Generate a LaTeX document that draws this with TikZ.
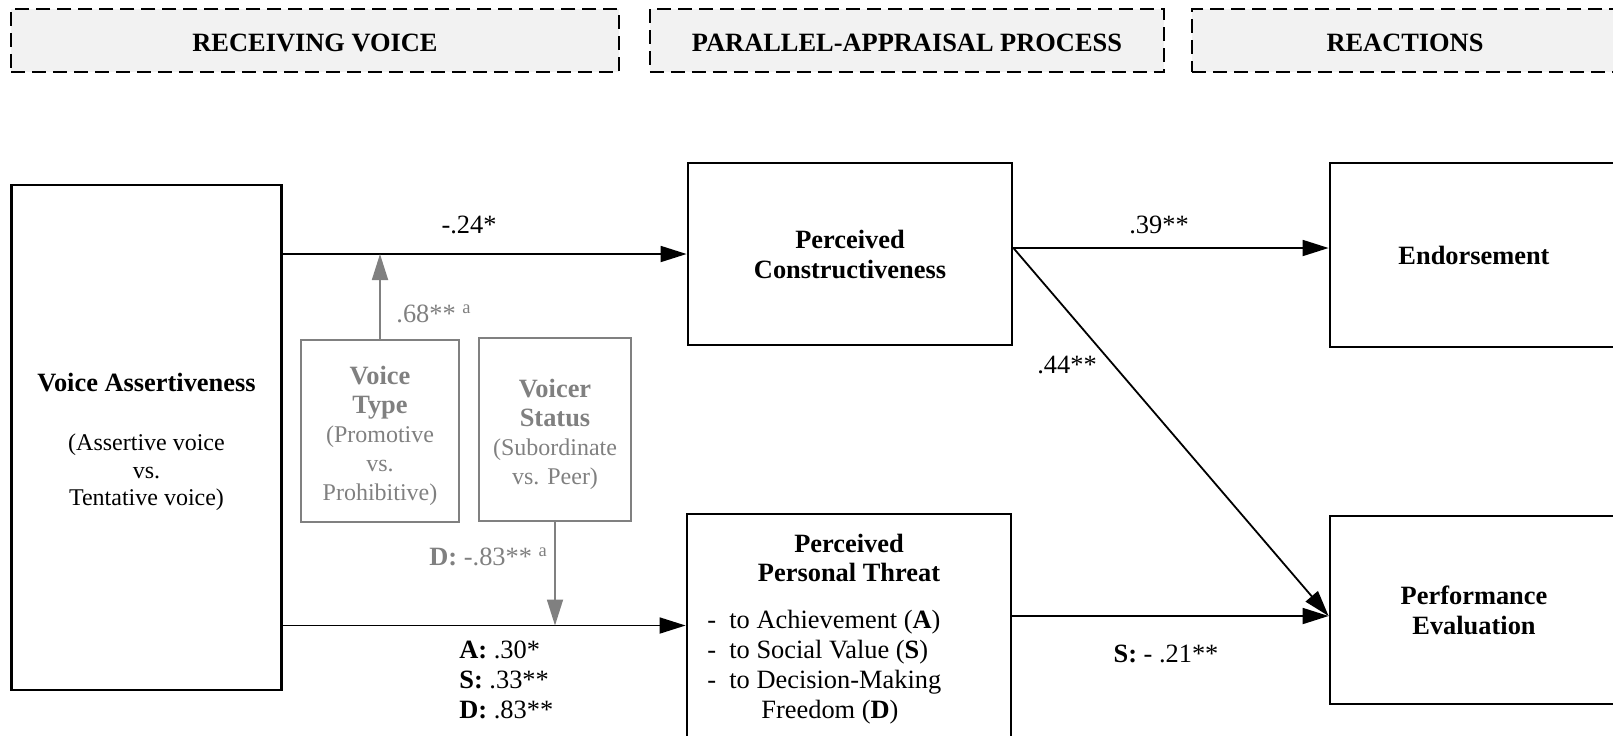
\documentclass[tikz,border=0pt]{standalone}
\usepackage{fontspec}
\setmainfont{Liberation Serif}
\usetikzlibrary{arrows.meta, positioning}

\definecolor{modgray}{RGB}{128,128,128}
\definecolor{hdrfill}{RGB}{242,242,242}
\newcommand{\varname}[1]{{\fontsize{13.2}{15}\selectfont\bfseries #1}}
\newcommand{\topgap}{\rule{0pt}{14pt}}

\begin{document}
\begin{tikzpicture}[x=0.5pt, y=-0.5pt,
    hdrbox/.style={draw, dash pattern=on 7pt off 3.5pt, line width=1pt, fill=hdrfill,
                   minimum height=31.5pt, inner sep=0pt, font=\fontsize{13.2}{15}\selectfont\bfseries},
    varbox/.style={draw, line width=1.4pt, inner sep=0pt, align=center,
                   font=\fontsize{13.2}{15}\selectfont\bfseries},
    modbox/.style={draw=modgray, line width=1.2pt, inner sep=0pt, align=center, text=modgray,
                   minimum height=91pt, font=\fontsize{12}{14.5}\selectfont},
    link/.style={-{Triangle[length=13pt, width=8pt]}, line width=0.9pt},
    modlink/.style={link, draw=modgray},
    coef/.style={inner sep=0pt, font=\fontsize{13.2}{15}\selectfont},
    modcoef/.style={coef, text=modgray}]

    \useasboundingbox (0,0) rectangle (1613,735);

    % Stage headers
    \node[hdrbox, minimum width=303.75pt] (hdrrecv) at (315,40.5) {\rule{0pt}{11pt}RECEIVING VOICE};
    \node[hdrbox, minimum width=257.25pt] (hdrproc) at (907,40.5) {\rule{0pt}{11pt}PARALLEL-APPRAISAL PROCESS};
    \node[hdrbox, minimum width=212.75pt] (hdrreac) at (1405,40.5) {\rule{0pt}{11pt}REACTIONS};

    % Independent variable
    \node[varbox, minimum width=135.25pt, minimum height=252.5pt,
          font=\fontsize{12}{13.75}\selectfont] (assert) at (146.5,437.5)
          {\topgap\varname{Voice Assertiveness}\\[15.75pt](Assertive voice\\vs.\\Tentative voice)};

    % Moderators
    \node[modbox, minimum width=79pt] (vtype) at (380,431)
          {\topgap\varname{Voice}\\\varname{Type}\\(Promotive\\vs.\\Prohibitive)};
    \node[modbox, minimum width=76pt, minimum height=91.5pt] (vstatus) at (555,429.5)
          {\topgap\varname{Voicer}\\\varname{Status}\\(Subordinate\\vs. Peer)};

    % Mediators
    \node[varbox, minimum width=162pt, minimum height=91pt] (constr) at (850,254)
          {Perceived\\Constructiveness};
    \node[varbox, minimum width=162pt, minimum height=111.5pt] (threat) at (849,625.5) {};
    \node[coef, align=center, font=\fontsize{13.2}{14.5}\selectfont\bfseries] (threathead) at (849,557.5)
          {Perceived\\Personal Threat};
    \node[coef, align=left, anchor=north west] (threatlist) at (707,610)
          {-\hspace{6.6pt}to Achievement (\textbf{A})\\
           -\hspace{6.6pt}to Social Value (\textbf{S})\\
           -\hspace{6.6pt}to Decision-Making\\
           \hspace*{27pt}Freedom (\textbf{D})};

    % Outcomes
    \node[varbox, minimum width=144pt, minimum height=92pt] (endorse) at (1474,255) {Endorsement};
    \node[varbox, minimum width=144pt, minimum height=94pt] (perfeval) at (1474,610)
          {Performance\\Evaluation};

    % Ports
    \coordinate (constrout) at ([yshift=3pt]constr.east);
    \coordinate (perfin) at ([yshift=-3pt]perfeval.west);

    % Paths
    \draw[link] (assert.east |- constr.west) -- (constr.west);
    \draw[link] (assert.east |- threat.west) -- (threat.west);
    \draw[modlink] (vtype.north) -- (vtype.north |- constr.west);
    \draw[modlink] (vstatus.south) -- (vstatus.south |- threat.west);
    \draw[link] (constrout) -- (constrout -| endorse.west);
    \draw[link] (constrout) -- (perfin);
    \draw[link] (threat.east |- perfin) -- (perfin);

    % Coefficients
    \node[coef] (c24) at (469,225) {-.24*};
    \node[modcoef, anchor=west] (c68) at (396,314) {.68**~\textsuperscript{a}};
    \node[modcoef, anchor=west] (cd83) at (429,557) {\textbf{D:} -.83**~\textsuperscript{a}};
    \node[coef, align=left, anchor=north west] (casd) at (459,641)
          {\textbf{A:} .30*\\\textbf{S:} .33**\\\textbf{D:} .83**};
    \node[coef] (c39) at (1159,225) {.39**};
    \node[coef] (c44) at (1067,365) {.44**};
    \node[coef] (cs21) at (1166,654) {\textbf{S:} - .21**};
  \end{tikzpicture}
\end{document}
